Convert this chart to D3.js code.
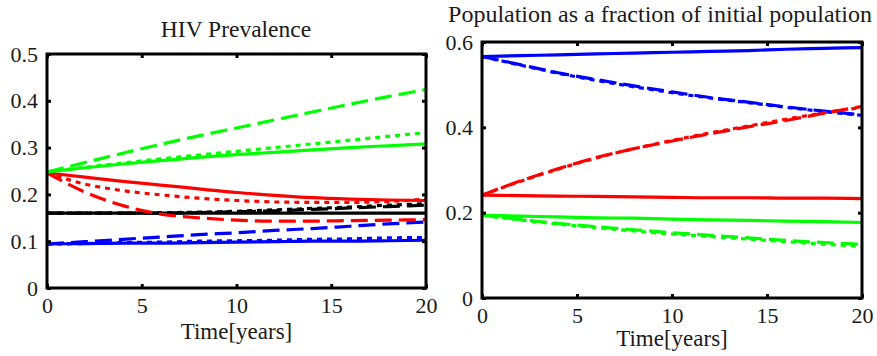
<!DOCTYPE html>
<html>
<head>
<meta charset="utf-8">
<script src="https://cdn.jsdelivr.net/npm/d3@7"></script>
<style>
  body { margin: 0; background: #fff; }
</style>
</head>
<body>
<svg id="chart" width="877" height="356"></svg>
<script>
// time points (years)
const years = [0, 2, 4, 6, 8, 10, 12, 14, 16, 18, 20];
const xTicks = [0, 5, 10, 15, 20];

// HIV prevalence
const prevTicks = [0, 0.1, 0.2, 0.3, 0.4, 0.5];
const prevGreenSolid  = [0.248, 0.257, 0.265, 0.272, 0.279, 0.285, 0.290, 0.295, 0.300, 0.304, 0.308];
const prevGreenDotted = [0.248, 0.258, 0.267, 0.276, 0.284, 0.292, 0.300, 0.308, 0.316, 0.324, 0.332];
const prevGreenDashed = [0.248, 0.268, 0.288, 0.307, 0.325, 0.342, 0.359, 0.376, 0.393, 0.409, 0.424];
const prevRedSolid    = [0.246, 0.237, 0.228, 0.220, 0.212, 0.204, 0.198, 0.193, 0.190, 0.188, 0.187];
const prevRedDotted   = [0.246, 0.222, 0.208, 0.199, 0.192, 0.187, 0.184, 0.183, 0.183, 0.185, 0.190];
const prevRedDashed   = [0.246, 0.205, 0.176, 0.158, 0.150, 0.145, 0.143, 0.143, 0.144, 0.145, 0.146];
const prevBlackSolid  = [0.160, 0.160, 0.160, 0.160, 0.160, 0.160, 0.160, 0.160, 0.160, 0.160, 0.160];
const prevBlackDashed = [0.160, 0.160, 0.160, 0.160, 0.161, 0.163, 0.165, 0.168, 0.171, 0.174, 0.177];
const prevBlackDotted = [0.160, 0.160, 0.160, 0.161, 0.162, 0.164, 0.167, 0.170, 0.173, 0.177, 0.180];
const prevBlueSolid   = [0.094, 0.095, 0.096, 0.096, 0.097, 0.098, 0.099, 0.100, 0.100, 0.101, 0.102];
const prevBlueDotted  = [0.094, 0.095, 0.097, 0.098, 0.100, 0.101, 0.102, 0.104, 0.105, 0.107, 0.108];
const prevBlueDashed  = [0.094, 0.099, 0.104, 0.109, 0.114, 0.118, 0.123, 0.127, 0.132, 0.137, 0.141];

// population as a fraction of initial population
const popTicks = [0, 0.2, 0.4, 0.6];
const popBlueSolid   = [0.566, 0.568, 0.570, 0.572, 0.574, 0.576, 0.578, 0.580, 0.583, 0.585, 0.587];
const popBlueDashed  = [0.566, 0.547, 0.528, 0.512, 0.497, 0.483, 0.470, 0.459, 0.448, 0.438, 0.429];
const popBlueDotted  = [0.566, 0.546, 0.527, 0.510, 0.495, 0.481, 0.469, 0.458, 0.447, 0.437, 0.428];
const popRedSolid    = [0.241, 0.240, 0.239, 0.238, 0.237, 0.236, 0.235, 0.235, 0.234, 0.234, 0.233];
const popRedDashed   = [0.241, 0.274, 0.303, 0.329, 0.350, 0.368, 0.385, 0.401, 0.416, 0.433, 0.449];
const popRedDotted   = [0.241, 0.273, 0.302, 0.328, 0.350, 0.369, 0.387, 0.403, 0.419, 0.434, 0.447];
const popGreenSolid  = [0.194, 0.192, 0.190, 0.188, 0.187, 0.185, 0.183, 0.182, 0.180, 0.179, 0.177];
const popGreenDashed = [0.194, 0.184, 0.175, 0.167, 0.160, 0.153, 0.147, 0.141, 0.135, 0.130, 0.126];
const popGreenDotted = [0.194, 0.183, 0.173, 0.165, 0.157, 0.150, 0.144, 0.138, 0.132, 0.126, 0.121];

const DASH = "17,7";
const DOT = "5,5";
const FONT = '"Liberation Serif", "Times New Roman", Times, serif';

const svg = d3.select("#chart");

function drawPanel(cfg) {
  const x = d3.scaleLinear().domain([0, 20]).range([cfg.left, cfg.right]);
  const y = d3.scaleLinear().domain(cfg.yDomain).range([cfg.bottom, cfg.top]);
  const g = svg.append("g");

  const line = d3.line()
    .x((d, i) => x(years[i]))
    .y(d => y(d))
    .curve(d3.curveMonotoneX);

  g.selectAll("path.series")
    .data(cfg.series)
    .join("path")
    .attr("class", "series")
    .attr("d", d => line(d.values))
    .attr("fill", "none")
    .attr("stroke", d => d.color)
    .attr("stroke-width", 3.2)
    .attr("stroke-dasharray", d => d.dash);

  // frame
  g.append("rect")
    .attr("x", cfg.left).attr("y", cfg.top)
    .attr("width", cfg.right - cfg.left).attr("height", cfg.bottom - cfg.top)
    .attr("fill", "none").attr("stroke", "#000").attr("stroke-width", 3);

  const bottomAxis = g.append("g")
    .attr("transform", "translate(0," + cfg.bottom + ")")
    .call(d3.axisBottom(x).tickValues(xTicks).tickSize(-4).tickPadding(9).tickFormat(d3.format("d")));
  const topAxis = g.append("g")
    .attr("transform", "translate(0," + cfg.top + ")")
    .call(d3.axisTop(x).tickValues(xTicks).tickSize(-4).tickFormat(""));
  const leftAxis = g.append("g")
    .attr("transform", "translate(" + cfg.left + ",0)")
    .call(d3.axisLeft(y).tickValues(cfg.yTicks).tickSize(-4).tickPadding(9).tickFormat(d => d === 0 ? "0" : d3.format(".1f")(d)));
  const rightAxis = g.append("g")
    .attr("transform", "translate(" + cfg.right + ",0)")
    .call(d3.axisRight(y).tickValues(cfg.yTicks).tickSize(-4).tickFormat(""));

  [bottomAxis, topAxis, leftAxis, rightAxis].forEach(a => {
    a.attr("font-family", FONT).attr("font-size", 22);
    a.select(".domain").remove();
    a.selectAll(".tick line").attr("stroke", "#000").attr("stroke-width", 3);
    a.selectAll("text").attr("fill", "#1a1a1a");
  });
  bottomAxis.selectAll("text").attr("dy", "0.71em");

  g.append("text")
    .attr("x", cfg.titleX).attr("y", cfg.titleY)
    .attr("text-anchor", "middle")
    .attr("font-family", FONT)
    .attr("font-size", cfg.titleSize)
    .attr("fill", "#1a1a1a")
    .text(cfg.title);

  g.append("text")
    .attr("x", (cfg.left + cfg.right) / 2).attr("y", cfg.xLabelY)
    .attr("text-anchor", "middle")
    .attr("font-family", FONT)
    .attr("font-size", 23)
    .attr("fill", "#1a1a1a")
    .text("Time[years]");
}

drawPanel({
  left: 47, right: 426, top: 54, bottom: 288,
  yDomain: [0, 0.5], yTicks: prevTicks,
  title: "HIV Prevalence", titleX: 236, titleY: 37, titleSize: 23.5, xLabelY: 339,
  series: [
    { values: prevBlackSolid,  color: "#000000", dash: null },
    { values: prevBlackDashed, color: "#000000", dash: DASH },
    { values: prevBlackDotted, color: "#000000", dash: DOT },
    { values: prevBlueSolid,   color: "#0000ff", dash: null },
    { values: prevBlueDotted,  color: "#0000ff", dash: DOT },
    { values: prevBlueDashed,  color: "#0000ff", dash: DASH },
    { values: prevRedSolid,    color: "#ff0000", dash: null },
    { values: prevRedDotted,   color: "#ff0000", dash: DOT },
    { values: prevRedDashed,   color: "#ff0000", dash: DASH },
    { values: prevGreenSolid,  color: "#00ff00", dash: null },
    { values: prevGreenDotted, color: "#00ff00", dash: DOT },
    { values: prevGreenDashed, color: "#00ff00", dash: DASH }
  ]
});

drawPanel({
  left: 482, right: 862, top: 42, bottom: 298,
  yDomain: [0, 0.6], yTicks: popTicks,
  title: "Population as a fraction of initial population", titleX: 660, titleY: 22, titleSize: 24, xLabelY: 346,
  series: [
    { values: popBlueSolid,   color: "#0000ff", dash: null },
    { values: popBlueDashed,  color: "#0000ff", dash: DASH },
    { values: popBlueDotted,  color: "#0000ff", dash: DOT },
    { values: popRedSolid,    color: "#ff0000", dash: null },
    { values: popRedDashed,   color: "#ff0000", dash: DASH },
    { values: popRedDotted,   color: "#ff0000", dash: DOT },
    { values: popGreenSolid,  color: "#00ff00", dash: null },
    { values: popGreenDashed, color: "#00ff00", dash: DASH },
    { values: popGreenDotted, color: "#00ff00", dash: DOT }
  ]
});
</script>
</body>
</html>
